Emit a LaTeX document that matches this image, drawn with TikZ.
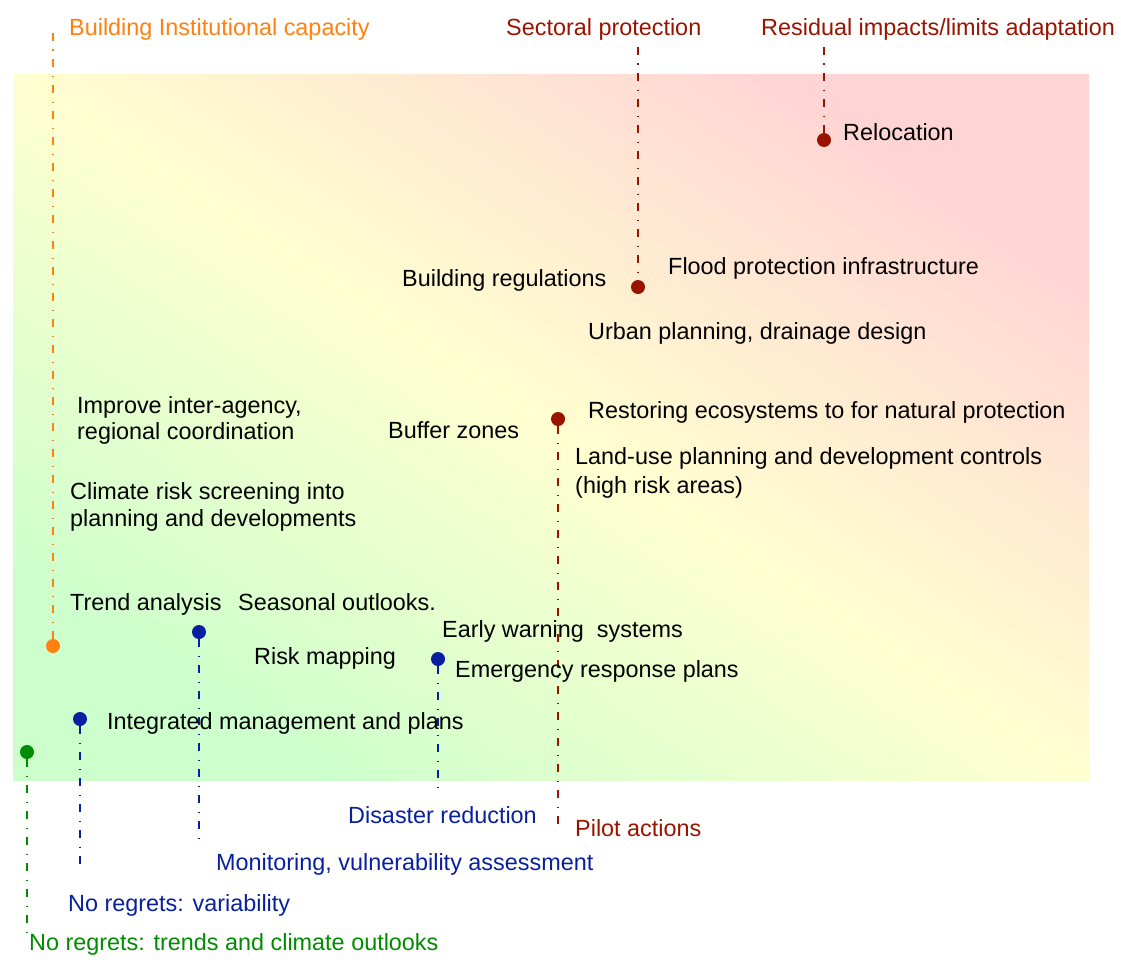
\documentclass[tikz,border=0pt]{standalone}
\usepackage{fontspec}
\setmainfont{Liberation Sans}
\definecolor{bgG}{RGB}{204,255,204}
\definecolor{bgY}{RGB}{255,255,208}
\definecolor{bgP}{RGB}{255,212,212}
\definecolor{cOr}{RGB}{255,128,16}
\definecolor{cRd}{RGB}{153,20,0}
\definecolor{cBl}{RGB}{8,32,160}
\definecolor{cGr}{RGB}{0,140,0}
\pgfdeclarehorizontalshading{bgshade}{100bp}{color(0bp)=(bgG); color(25bp)=(bgG); color(50bp)=(bgY); color(75bp)=(bgP); color(100bp)=(bgP)}
\tikzset{
  lbl/.style={anchor=base west, inner sep=0pt, font=\fontsize{23.4}{28}\selectfont},
  dot/.style={circle, fill=#1, inner sep=0pt, minimum size=14pt},
  stem/.style={draw=#1, line width=2.2pt, dash pattern=on 8pt off 8.5pt on 1.5pt off 8pt},
}
\begin{document}
\begin{tikzpicture}[x=1pt,y=-1pt]
\useasboundingbox (0,0) rectangle (1121,966);
\shade[shading=bgshade, shading angle=56.7] (13,74) rectangle (1089,780);

% dots
\node[dot=cOr] (dOr) at (53,646) {};
\node[dot=cRd] (dRel) at (824,140) {};
\node[dot=cRd] (dSec) at (638,287) {};
\node[dot=cRd] (dPil) at (558,419) {};
\node[dot=cBl] (dMon) at (199,632) {};
\node[dot=cBl] (dDis) at (438,659) {};
\node[dot=cBl] (dVar) at (80,719) {};
\node[dot=cGr] (dTr) at (27,752) {};

% free ends
\coordinate (eOr) at (53,33);
\coordinate (eRel) at (824,47);
\coordinate (eSec) at (638,47);
\coordinate (ePil) at (558,831);
\coordinate (eMon) at (199,845);
\coordinate (eDis) at (438,792);
\coordinate (eVar) at (80,871);
\coordinate (eTr) at (27,938);

\draw[stem=cOr] (eOr) -- (dOr);
\draw[stem=cRd] (eRel) -- (dRel);
\draw[stem=cRd] (eSec) -- (dSec);
\draw[stem=cRd] (dPil) -- (ePil);
\draw[stem=cBl] (dMon) -- (eMon);
\draw[stem=cBl] (dDis) -- (eDis);
\draw[stem=cBl] (dVar) -- (eVar);
\draw[stem=cGr] (dTr) -- (eTr);

% category labels
\node[lbl, text=cOr] (tOr) at (69,36) {Building Institutional capacity};
\node[lbl, text=cRd] (tSec) at (506,36) {Sectoral protection};
\node[lbl, text=cRd] (tRel) at (761,36) {Residual impacts/limits adaptation};
\node[lbl, text=cBl] (tDis) at (348,823) {Disaster reduction};
\node[lbl, text=cRd] (tPil) at (575,836) {Pilot actions};
\node[lbl, text=cBl] (tMon) at (216,870) {Monitoring, vulnerability assessment};
\node[lbl, text=cBl] (tVar) at (68,911) {No regrets: variability};
\node[lbl, text=cGr] (tTr) at (29,950) {No regrets: trends and climate outlooks};

% items
\node[lbl] (iRel) at (843,140) {Relocation};
\node[lbl] (iFlood) at (668,274) {Flood protection infrastructure};
\node[lbl] (iBReg) at (402,286) {Building regulations};
\node[lbl] (iUrban) at (588,339) {Urban planning, drainage design};
\node[lbl] (iImpA) at (77,413) {Improve inter-agency,};
\node[lbl] (iImpB) at (77,439) {regional coordination};
\node[lbl] (iBuf) at (388,438) {Buffer zones};
\node[lbl] (iRest) at (588,418) {Restoring ecosystems to for natural protection};
\node[lbl] (iLandA) at (575,464) {Land-use planning and development controls};
\node[lbl] (iLandB) at (575,493) {(high risk areas)};
\node[lbl] (iClimA) at (70,499) {Climate risk screening into};
\node[lbl] (iClimB) at (70,526) {planning and developments};
\node[lbl] (iTrend) at (70,610) {Trend analysis};
\node[lbl] (iSeas) at (238,610) {Seasonal outlooks.};
\node[lbl] (iEarly) at (442,637) {Early warning\ \ systems};
\node[lbl] (iRisk) at (254,664) {Risk mapping};
\node[lbl] (iEmer) at (455,677) {Emergency response plans};
\node[lbl] (iInt) at (107,729) {Integrated management and plans};
\end{tikzpicture}
\end{document}
